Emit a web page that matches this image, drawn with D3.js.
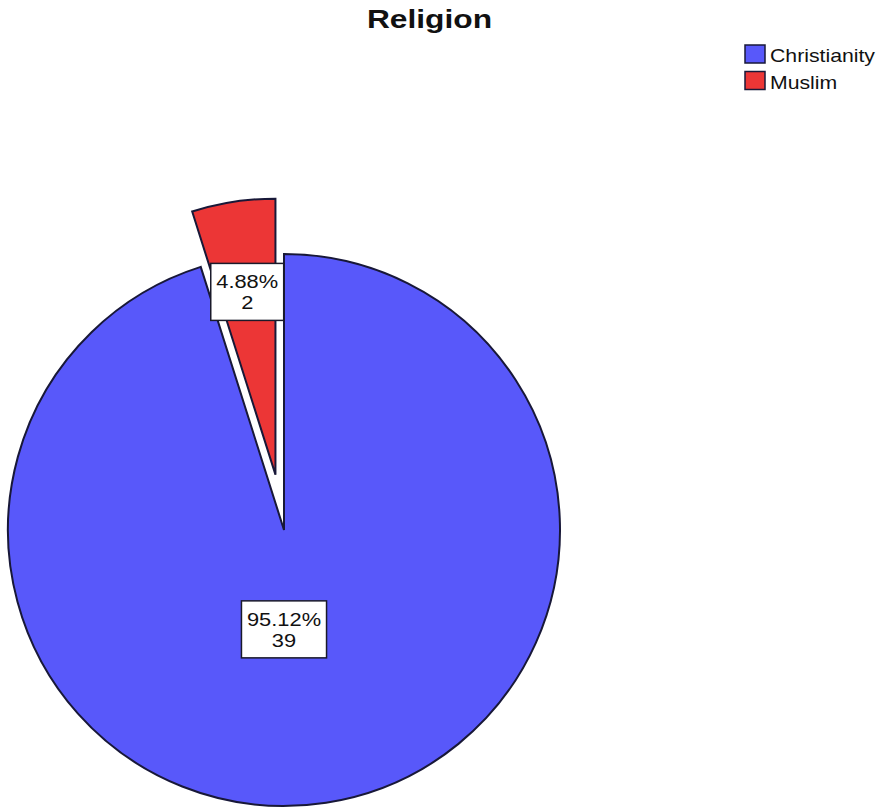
<!DOCTYPE html>
<html>
<head>
<meta charset="utf-8">
<script src="https://cdn.jsdelivr.net/npm/d3@7"></script>
<style>
  html, body { margin: 0; padding: 0; background: #ffffff; }
  svg { display: block; }
  text { font-family: "Liberation Sans", Arial, sans-serif; }
</style>
</head>
<body>
<svg id="chart" width="878" height="811"></svg>
<script>
// ---- data ----
const title = "Religion";
const categories = ["Christianity", "Muslim"];
const counts = [39, 2];
const colors = ["#5858fa", "#ec3636"];
const exploded = [false, true];

// ---- layout ----
const W = 878, H = 811;
const cx = 284, cy = 530, R = 276;
const explodeDist = 56;
const outline = "#181838";

const svg = d3.select("#chart");
const total = d3.sum(counts);
const data = categories.map((c, i) => ({ cat: c, count: counts[i], color: colors[i], exploded: exploded[i], pct: counts[i] / total }));

const pie = d3.pie().sort(null).value(d => d.count);
const arcs = pie(data);
const arc = d3.arc().innerRadius(0).outerRadius(R);

const pieG = svg.append("g").attr("transform", `translate(${cx},${cy})`);

function offsetOf(a) {
  if (!a.data.exploded) return [0, 0];
  const mid = (a.startAngle + a.endAngle) / 2;
  return [Math.sin(mid) * explodeDist, -Math.cos(mid) * explodeDist];
}

pieG.selectAll("path.slice")
  .data(arcs)
  .join("path")
  .attr("class", "slice")
  .attr("d", arc)
  .attr("transform", a => { const [dx, dy] = offsetOf(a); return `translate(${dx},${dy})`; })
  .attr("fill", a => a.data.color)
  .attr("stroke", outline)
  .attr("stroke-width", 2)
  .attr("stroke-linejoin", "miter");

// ---- labels ----
const fmt = d3.format(".2%");
const labelG = pieG.append("g");
const fs = 19, sx = 1.15;
arcs.forEach(a => {
  const span = a.endAngle - a.startAngle;
  const mid = span > Math.PI ? Math.PI : (a.startAngle + a.endAngle) / 2;
  const lr = span > Math.PI ? 0.36 * R : 0.67 * R;
  const [ox, oy] = offsetOf(a);
  const x = ox + Math.sin(mid) * lr;
  const y = oy - Math.cos(mid) * lr;
  const g = labelG.append("g").attr("transform", `translate(${x},${y})`);
  const rect = g.append("rect").attr("fill", "#ffffff").attr("stroke", "#1a1a2a").attr("stroke-width", 1.5);
  const t = g.append("text")
    .attr("text-anchor", "middle")
    .attr("font-size", fs)
    .attr("fill", "#111")
    .attr("transform", `scale(${sx},1)`);
  t.append("tspan").attr("x", 0).attr("y", -3.5).text(fmt(a.data.pct));
  t.append("tspan").attr("x", 0).attr("y", 17.5).text(a.data.count);
  const bb = t.node().getBBox();
  const bw = bb.width * sx + 11;
  const bh = 57;
  rect.attr("x", -bw / 2).attr("y", -bh / 2).attr("width", bw).attr("height", bh);
});

// ---- title ----
svg.append("text")
  .attr("transform", `translate(429.5,28) scale(1.27,1)`)
  .attr("text-anchor", "middle")
  .attr("font-size", 25)
  .attr("font-weight", "bold")
  .attr("fill", "#111")
  .text(title);

// ---- legend ----
const legend = svg.append("g").attr("transform", "translate(745,45)");
const items = legend.selectAll("g").data(data).join("g")
  .attr("transform", (d, i) => `translate(0,${i * 26.5})`);
items.append("rect")
  .attr("width", 20).attr("height", 18)
  .attr("fill", d => d.color)
  .attr("stroke", outline).attr("stroke-width", 1.5);
items.append("text")
  .attr("transform", "translate(25,17) scale(1.18,1)")
  .attr("font-size", 18)
  .attr("fill", "#111")
  .text(d => d.cat);
</script>
</body>
</html>
